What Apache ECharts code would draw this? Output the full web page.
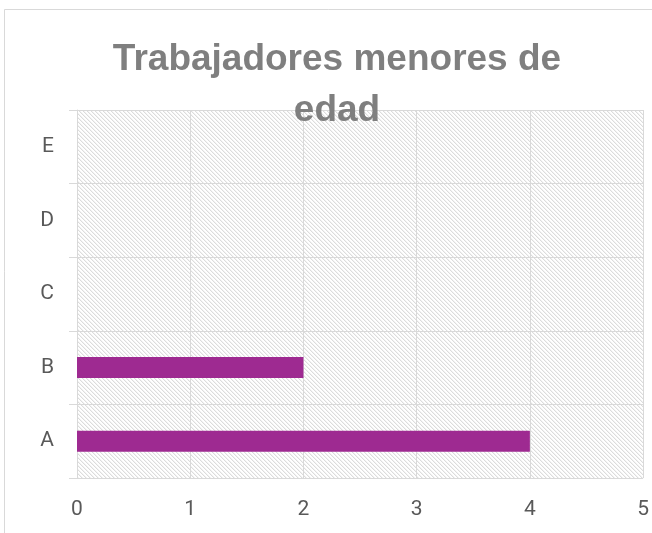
<!DOCTYPE html>
<html><head><meta charset="utf-8">
<script src="https://cdn.jsdelivr.net/npm/echarts@6/dist/echarts.min.js"></script>
<style>html,body{margin:0;padding:0;background:#fff}#c{width:652px;height:533px}</style>
</head><body><div id="c"></div>
<script>
const categories = ['A','B','C','D','E'];
const values = [4,2,0,0,0];
const xTicks = [0,1,2,3,4,5];
const titleText = 'Trabajadores menores de\nedad';

const tile = document.createElement('canvas');
tile.width = 4; tile.height = 4;
const g = tile.getContext('2d');
g.fillStyle = '#ffffff'; g.fillRect(0,0,4,4);
for (let i=0;i<4;i++){
  g.fillStyle = '#dcdcdc'; g.fillRect(i,i,1,1);
  g.fillStyle = '#f3f3f3'; g.fillRect((i+1)%4,i,1,1);
}

const chart = echarts.init(document.getElementById('c'));
chart.setOption({
  animation:false,
  backgroundColor:'#ffffff',
  title:{text:titleText,left:332,top:29,textAlign:'center',
    textStyle:{fontFamily:'Liberation Sans',fontSize:37,fontWeight:'bold',color:'#7f7f7f',lineHeight:51}},
  graphic:[{type:'rect',shape:{x:4.5,y:9.5,width:660,height:540},style:{fill:'none',stroke:'#d9d9d9',lineWidth:1},silent:true,z:-1}],
  grid:{left:77,right:5,top:110,bottom:55,show:true,backgroundColor:{image:tile,repeat:'repeat'},borderWidth:0},
  xAxis:{type:'value',min:0,max:5,interval:1,
    axisLine:{show:false},axisTick:{show:false},
    splitLine:{show:true,lineStyle:{color:'#d9d9d9',width:1}},
    axisLabel:{color:'#595959',fontSize:21,fontFamily:'Roboto',margin:21,formatter:v=>String(xTicks[v])}},
  yAxis:{type:'category',data:categories,
    axisLine:{show:true,lineStyle:{color:'#d9d9d9'}},
    axisTick:{show:true,length:8,lineStyle:{color:'#d9d9d9'}},
    splitLine:{show:true,lineStyle:{color:'#d9d9d9',width:1}},
    axisLabel:{color:'#595959',fontSize:21,fontFamily:'Roboto',margin:23}},
  series:[{type:'bar',data:values,barWidth:21,itemStyle:{color:'#9e2a91'}}]
});
</script></body></html>
